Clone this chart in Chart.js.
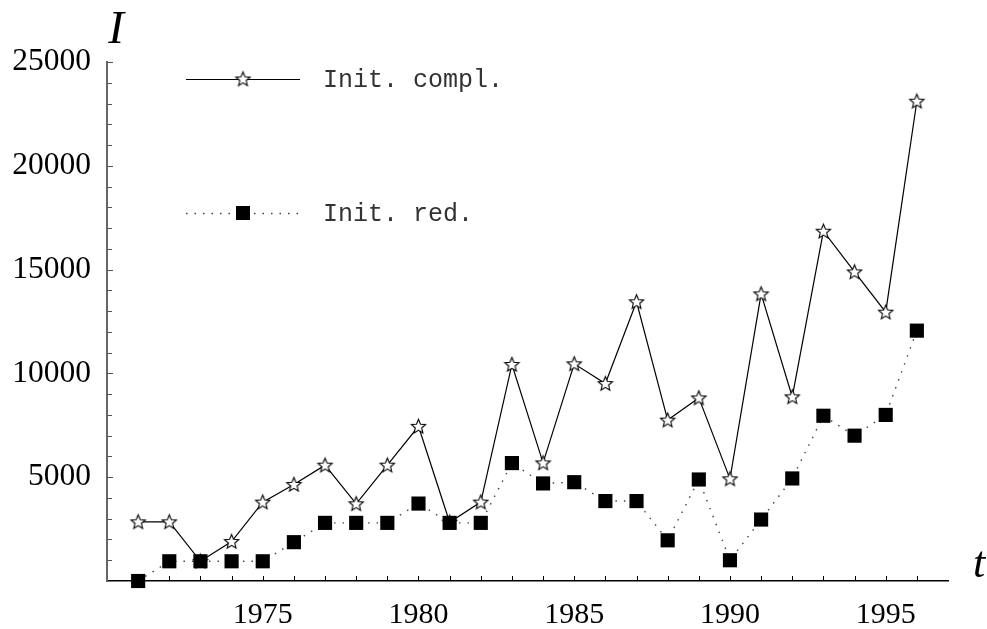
<!DOCTYPE html>
<html>
<head>
<meta charset="utf-8">
<title>Init. compl. / Init. red.</title>
<script src="https://cdn.jsdelivr.net/npm/chart.js"></script>
<style>
  body { margin: 0; background: #fff; }
</style>
</head>
<body>
<canvas id="chart" width="987" height="629"></canvas>
<script>
// values
var years = [1971, 1972, 1973, 1974, 1975, 1976, 1977, 1978, 1979, 1980, 1981, 1982, 1983,
             1984, 1985, 1986, 1987, 1988, 1989, 1990, 1991, 1992, 1993, 1994, 1995, 1996];
var initCompl = [2850, 2850, 950, 1900, 3800, 4650, 5580, 3720, 5580, 7450, 2830, 3800, 10430,
                 5690, 10460, 9510, 13450, 7750, 8820, 4920, 13830, 8870, 16850, 14890, 12950, 23110];
var initRed = [0, 950, 950, 950, 950, 1870, 2800, 2800, 2800, 3730, 2800, 2800, 5680,
               4700, 4760, 3850, 3850, 1960, 4890, 1000, 2960, 4940, 7960, 7000, 8000, 12060];
var yearLabels = [1975, 1980, 1985, 1990, 1995];
var valueLabels = [5000, 10000, 15000, 20000, 25000];
var seriesNames = ['Init. compl.', 'Init. red.'];

// open five-point star used as marker
function makeStar(r) {
    var s = Math.ceil(r * 2 + 4);
    var c = document.createElement('canvas');
    c.width = s; c.height = s;
    var g = c.getContext('2d');
    g.translate(s / 2, s / 2 + 0.5);
    g.beginPath();
    for (var i = 0; i < 10; i++) {
        var rad = i % 2 ? r * 0.45 : r;
        var ang = -Math.PI / 2 + i * Math.PI / 5;
        g.lineTo(rad * Math.cos(ang), rad * Math.sin(ang));
    }
    g.closePath();
    g.fillStyle = '#fff';
    g.fill();
    g.lineWidth = 1.1;
    g.strokeStyle = '#000';
    g.stroke();
    return c;
}
var star = makeStar(7.5);

function toPoints(vals) {
    return years.map(function (y, i) { return { x: y, y: vals[i] }; });
}

// small inward ticks, axis letters and the legend inside the plot
var decorations = {
    id: 'decorations',
    beforeDatasetsDraw: function (chart) {
        var ctx = chart.ctx, a = chart.chartArea;
        var xs = chart.scales.x, ys = chart.scales.y;
        ctx.save();
        ctx.strokeStyle = '#000';
        ctx.lineWidth = 1;
        years.forEach(function (yr) {
            var px = Math.round(xs.getPixelForValue(yr)) + 0.5;
            ctx.beginPath();
            ctx.moveTo(px, a.bottom);
            ctx.lineTo(px, a.bottom - 5);
            ctx.stroke();
        });
        ctx.strokeStyle = '#555';
        for (var v = 1000; v <= ys.max; v += 1000) {
            var py = Math.round(ys.getPixelForValue(v)) + 0.5;
            ctx.beginPath();
            ctx.moveTo(a.left, py);
            ctx.lineTo(a.left + (v % 5000 === 0 ? 6 : 5), py);
            ctx.stroke();
        }
        ctx.restore();
    },
    afterDraw: function (chart) {
        var ctx = chart.ctx, a = chart.chartArea;
        ctx.save();
        ctx.fillStyle = '#000';
        ctx.font = 'italic 47px "Liberation Serif", "Times New Roman", serif';
        ctx.textAlign = 'center';
        ctx.textBaseline = 'alphabetic';
        ctx.fillText('I', a.left + 9, 43);
        ctx.font = 'italic 44px "Liberation Serif", "Times New Roman", serif';
        ctx.fillText('t', 979, 577);

        // legend
        var rows = [a.top + 17, a.top + 151];
        var x0 = a.left + 79, x1 = a.left + 193, xm = (x0 + x1) / 2;
        ctx.font = '25px "Liberation Mono", "Courier New", monospace';
        ctx.textAlign = 'left';
        ctx.textBaseline = 'middle';
        rows.forEach(function (ry, i) {
            var ds = chart.data.datasets[i];
            ctx.save();
            ctx.strokeStyle = ds.borderColor;
            ctx.lineWidth = ds.borderWidth;
            ctx.setLineDash(ds.borderDash || []);
            ctx.beginPath();
            ctx.moveTo(x0, ry + 0.5);
            ctx.lineTo(x1, ry + 0.5);
            ctx.stroke();
            ctx.restore();
            if (i === 0) {
                ctx.drawImage(star, xm - star.width / 2, ry - star.height / 2);
            } else {
                ctx.fillStyle = '#000';
                ctx.fillRect(xm - 7, ry - 7, 14, 14);
            }
            ctx.fillStyle = '#333';
            ctx.fillText(seriesNames[i], a.left + 216, ry + 1);
        });
        ctx.restore();
    }
};

var ctx = document.getElementById('chart').getContext('2d');
var chart = new Chart(ctx, {
    type: 'line',
    data: {
        datasets: [{
            label: seriesNames[0],
            data: toPoints(initCompl),
            borderColor: '#000',
            borderWidth: 1.2,
            pointStyle: star,
            pointRadius: 8,
            clip: false,
            tension: 0,
            order: 1
        }, {
            label: seriesNames[1],
            data: toPoints(initRed),
            borderColor: '#444',
            borderWidth: 1.4,
            borderDash: [1.5, 7],
            pointStyle: 'rect',
            pointRadius: 10,
            pointBackgroundColor: '#000',
            pointBorderColor: '#000',
            pointBorderWidth: 0,
            clip: false,
            tension: 0,
            order: 0
        }]
    },
    options: {
        responsive: false,
        animation: false,
        events: [],
        layout: { padding: { left: 0, right: 39, top: 62, bottom: 0 } },
        plugins: {
            legend: { display: false },
            tooltip: { enabled: false }
        },
        scales: {
            x: {
                type: 'linear',
                min: 1970,
                max: 1997,
                afterBuildTicks: function (scale) {
                    scale.ticks = yearLabels.map(function (v) { return { value: v }; });
                },
                afterFit: function (scale) { scale.height = 48; },
                grid: { display: false, drawTicks: false },
                border: { display: true, color: '#000', width: 1.5 },
                ticks: {
                    color: '#000',
                    padding: 16,
                    maxRotation: 0,
                    font: { family: '"Liberation Serif", "Times New Roman", serif', size: 30 },
                    callback: function (v) { return String(v); }
                }
            },
            y: {
                min: 0,
                max: 25000,
                afterBuildTicks: function (scale) {
                    scale.ticks = valueLabels.map(function (v) { return { value: v }; });
                },
                afterFit: function (scale) { scale.width = 107; },
                grid: { display: false, drawTicks: false },
                border: { display: true, color: '#666', width: 2 },
                ticks: {
                    color: '#000',
                    padding: 16,
                    font: { family: '"Liberation Serif", "Times New Roman", serif', size: 31.5 },
                    callback: function (v) { return String(v); }
                }
            }
        }
    },
    plugins: [decorations]
});
</script>
</body>
</html>
